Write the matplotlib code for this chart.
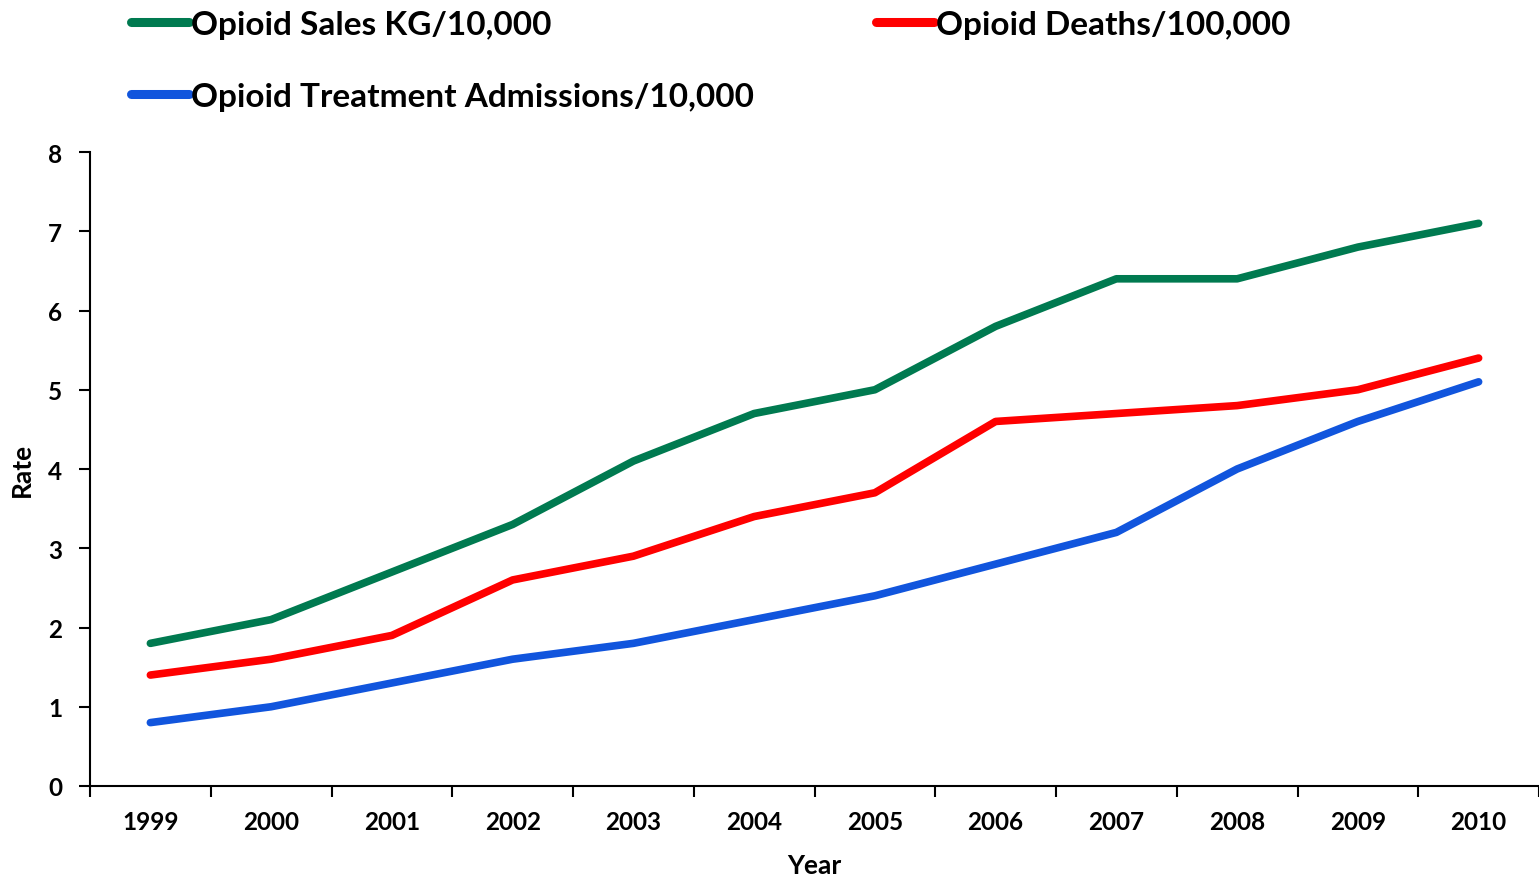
import matplotlib.pyplot as plt

plt.rcParams['font.family'] = ['Lato', 'DejaVu Sans']
plt.rcParams['font.weight'] = 'bold'

# data
years = ["1999", "2000", "2001", "2002", "2003", "2004",
         "2005", "2006", "2007", "2008", "2009", "2010"]
sales = [1.8, 2.1, 2.7, 3.3, 4.1, 4.7, 5.0, 5.8, 6.4, 6.4, 6.8, 7.1]
deaths = [1.4, 1.6, 1.9, 2.6, 2.9, 3.4, 3.7, 4.6, 4.7, 4.8, 5.0, 5.4]
admissions = [0.8, 1.0, 1.3, 1.6, 1.8, 2.1, 2.4, 2.8, 3.2, 4.0, 4.6, 5.1]

x = list(range(len(years)))
W, H = 1539, 878

fig = plt.figure(figsize=(W / 100, H / 100), dpi=100)
ax = fig.add_axes([90 / W, 91 / H, 1449 / W, 634 / H])

lw = 5.5
l1, = ax.plot(x, sales, color="#007A50", linewidth=lw, solid_capstyle="round",
              label="Opioid Sales KG/10,000")
l2, = ax.plot(x, deaths, color="#FF0000", linewidth=lw, solid_capstyle="round",
              label="Opioid Deaths/100,000")
l3, = ax.plot(x, admissions, color="#1155DD", linewidth=lw, solid_capstyle="round",
              label="Opioid Treatment Admissions/10,000")

ax.set_xlim(-0.5, 11.5)
ax.set_ylim(0, 8)
ax.set_yticks(range(0, 9))
ax.set_xticks([i - 0.5 for i in range(13)])
ax.set_xticklabels([])
ax.set_xticks(x, minor=True)
ax.set_xticklabels(years, minor=True)
ax.tick_params(axis="x", which="minor", length=0, pad=17, labelsize=17.5)
ax.tick_params(axis="x", which="major", length=8, width=1.5, direction="out")
ax.tick_params(axis="y", length=8, width=1.5, direction="out", labelsize=17.5, pad=12)
for lab in ax.get_xticklabels(minor=True) + ax.get_yticklabels():
    lab.set_fontweight("bold")

ax.spines["top"].set_visible(False)
ax.spines["right"].set_visible(False)
ax.spines["left"].set_linewidth(1.5)
ax.spines["bottom"].set_linewidth(1.5)

ax.set_xlabel("Year", fontsize=19, fontweight="bold", labelpad=15)
ax.set_ylabel("Rate", fontsize=19, fontweight="bold", labelpad=10)

# legend entries placed one by one, like the Excel layout
for handle, (lx, ly) in [(l1, (131, 25)), (l2, (876, 25)), (l3, (131, 97))]:
    leg = fig.legend(handles=[handle], frameon=False, loc="center left",
                     bbox_to_anchor=(lx / W, 1 - ly / H),
                     prop={"size": 24, "weight": "bold"},
                     handlelength=1.75, handletextpad=0.06,
                     borderpad=0, borderaxespad=0)
    for lh in leg.legend_handles:
        lh.set_linewidth(6.5)

fig.savefig("out.png", dpi=100)
